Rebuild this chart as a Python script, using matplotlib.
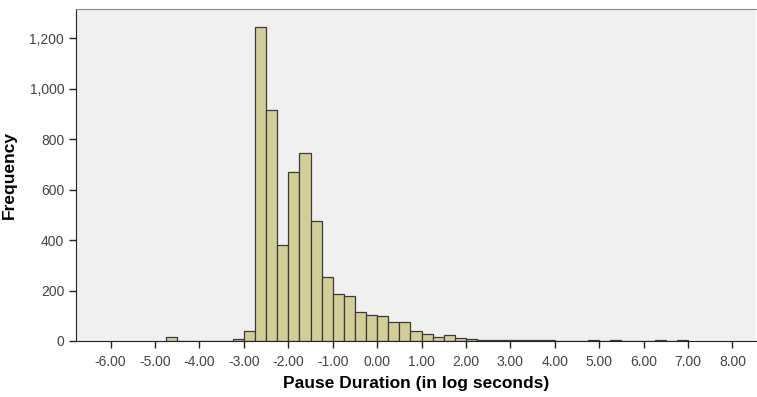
import numpy as np
import matplotlib.pyplot as plt
from matplotlib.ticker import FuncFormatter

plt.rcParams['font.family'] = ['Liberation Sans', 'DejaVu Sans']

# Histogram counts, bins of 0.25 log seconds starting at -4.75
bin_width = 0.25
first_edge = -4.75
counts = [17, 0, 0, 1, 1, 0, 7, 40,
          1245, 915, 380, 668, 746, 477, 253, 186,
          180, 116, 105, 98, 76, 76, 40, 27,
          17, 25, 11, 7, 3, 5, 3, 2,
          2, 3, 2, 1, 1, 1, 3, 0,
          2, 1, 0, 0, 2, 0, 2]
bin_left = first_edge + bin_width * np.arange(len(counts))

x_ticks = [-6, -5, -4, -3, -2, -1, 0, 1, 2, 3, 4, 5, 6, 7, 8]
y_ticks = [0, 200, 400, 600, 800, 1000, 1200]

fig = plt.figure(figsize=(7.57, 3.97), dpi=100)
ax = fig.add_axes([76 / 757, 1 - 341 / 397, 680 / 757, 332 / 397])
ax.set_facecolor('#f0f0f0')

ax.bar(bin_left, counts, width=bin_width, align='edge',
       color='#d3ce98', edgecolor='#3a3a3a', linewidth=0.9)

ax.set_xlim(-6.78, 8.53)
ax.set_ylim(0, 1316)
ax.set_xticks(x_ticks)
ax.set_yticks(y_ticks)
ax.xaxis.set_major_formatter(FuncFormatter(lambda v, p: '%.2f' % v))
ax.yaxis.set_major_formatter(FuncFormatter(lambda v, p: '{:,.0f}'.format(v)))
ax.tick_params(axis='both', labelsize=10, labelcolor='#444444', color='#222222',
               direction='out', length=5, width=1)
ax.tick_params(axis='x', pad=5)

for s in ['left', 'bottom']:
    ax.spines[s].set_color('#222222')
ax.spines['top'].set_color('#888888')
ax.spines['right'].set_visible(False)

ax.set_xlabel('Pause Duration (in log seconds)', fontsize=12.5, fontweight='bold', labelpad=5)
ax.set_ylabel('Frequency', fontsize=12.5, fontweight='bold')
ax.yaxis.set_label_coords(-0.087, 0.5)

fig.savefig('out.png', dpi=100)
